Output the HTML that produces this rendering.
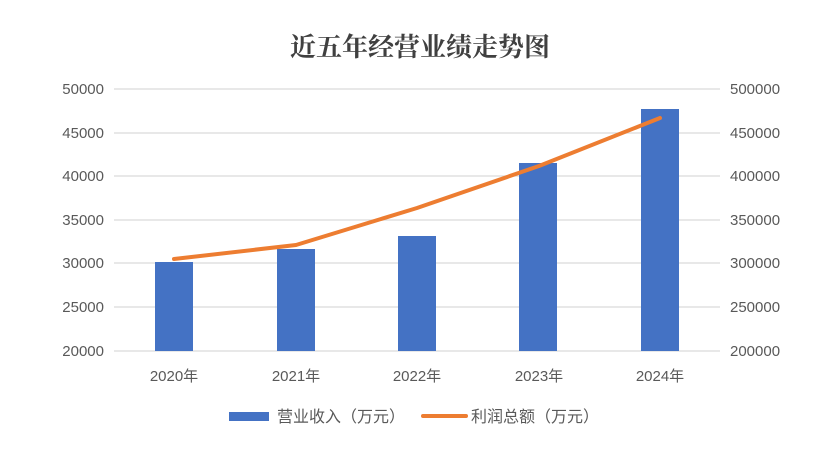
<!DOCTYPE html>
<html><head><meta charset="utf-8"><style>
body{margin:0;background:#fff;}
svg text{font-family:"Liberation Sans","Noto Sans CJK SC",sans-serif;fill:#595959;}
</style></head><body>
<svg width="840" height="452" viewBox="0 0 840 452" xmlns="http://www.w3.org/2000/svg">
<rect width="840" height="452" fill="#fff"/>
<text x="420" y="56" text-anchor="middle" style="font-family:'Noto Serif CJK SC','Noto Sans CJK SC',serif;font-size:26px;font-weight:bold;fill:#404040">近五年经营业绩走势图</text>
<g stroke="#d9d9d9" stroke-width="1.3">
<line x1="114" x2="720" y1="89" y2="89"/><line x1="114" x2="720" y1="133" y2="133"/>
<line x1="114" x2="720" y1="176" y2="176"/><line x1="114" x2="720" y1="220" y2="220"/>
<line x1="114" x2="720" y1="263" y2="263"/><line x1="114" x2="720" y1="307" y2="307"/>
<line x1="114" x2="720" y1="351" y2="351"/>
</g>
<g font-size="15" text-anchor="end">
<text x="104" y="94">50000</text><text x="104" y="138">45000</text><text x="104" y="181">40000</text>
<text x="104" y="225">35000</text><text x="104" y="268">30000</text><text x="104" y="312">25000</text>
<text x="104" y="356">20000</text>
</g>
<g font-size="15" text-anchor="start">
<text x="730" y="94">500000</text><text x="730" y="138">450000</text><text x="730" y="181">400000</text>
<text x="730" y="225">350000</text><text x="730" y="268">300000</text><text x="730" y="312">250000</text>
<text x="730" y="356">200000</text>
</g>
<g fill="#4472c4">
<rect x="155" y="262" width="38" height="89"/>
<rect x="277" y="249" width="38" height="102"/>
<rect x="398" y="236" width="38" height="115"/>
<rect x="519" y="163" width="38" height="188"/>
<rect x="641" y="109" width="38" height="242"/>
</g>
<polyline points="174,259 296,245 417,208 539,166 660,118" fill="none" stroke="#ed7d31" stroke-width="4" stroke-linecap="round" stroke-linejoin="round"/>
<g font-size="15" text-anchor="middle">
<text x="174" y="381">2020年</text><text x="296" y="381">2021年</text><text x="417" y="381">2022年</text>
<text x="539" y="381">2023年</text><text x="660" y="381">2024年</text>
</g>
<rect x="229" y="412" width="40" height="9" fill="#4472c4"/>
<text x="277" y="422" font-size="16">营业收入（万元）</text>
<line x1="423" x2="466" y1="416" y2="416" stroke="#ed7d31" stroke-width="4" stroke-linecap="round"/>
<text x="471" y="422" font-size="16">利润总额（万元）</text>
</svg>
</body></html>
